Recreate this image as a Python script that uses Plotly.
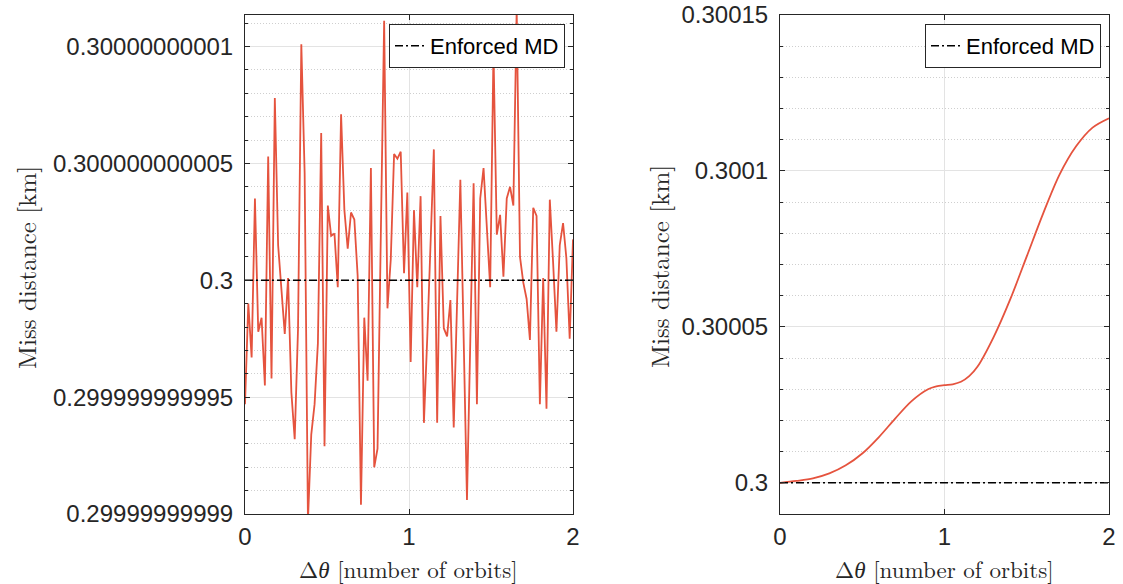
import plotly.graph_objects as go

# ---------------- data ----------------
# Left panel: miss distance offsets from 0.3 km, in units of 1e-12 km (100 samples over 0..2 orbits)
left_offsets_e12 = [
    -5.3, -1.0, -3.3, 3.5, -2.2, -1.6, -4.5, 5.3, -4.2, 7.8,
    1.5, -0.5, -2.3, 0.1, -4.8, -6.8, -2.1, 10.1, 4.6, -10.3,
    -6.6, -5.3, -2.7, 6.3, -7.1, 3.2, 1.9, 2.0, -0.3, 7.1,
    3.0, 1.35, 2.9, 2.6, 0.2, -9.6, -1.6, -4.3, 4.8, -8.0,
    -7.2, 2.0, 11.1, -1.2, 0.9, 5.4, 5.2, 5.5, 0.3, 3.75,
    -3.5, 3.0, -0.3, 3.6, -6.1, -2.5, 1.5, 5.6, -6.1, 2.75,
    -2.05, -2.4, -0.85, -6.3, -1.0, 4.3, -2.5, -9.4, -2.6, 4.15,
    -5.3, 3.5, 4.8, 2.2, -0.3, 9.8, 1.95, 2.8, 0.15, 3.5,
    4.0, 3.2, 11.6, 1.0, -0.1, -0.8, -2.55, 3.1, 2.75, -5.3,
    0.1, -5.5, 3.45, 0.75, -2.2, 1.5, 2.45, 0.95, -2.5, 1.75,
]
enforced_md = 0.3

# Right panel: smooth miss-distance growth, offsets from 0.3 km in units of 1e-5 km
right_theta = [0.0, 0.1, 0.2, 0.3, 0.4, 0.5, 0.6, 0.7, 0.8, 0.9, 0.95, 1.0,
               1.05, 1.1, 1.15, 1.2, 1.3, 1.4, 1.5, 1.6, 1.7, 1.8, 1.9, 2.0]
right_offsets_e5 = [0.0, 0.06, 0.14, 0.30, 0.56, 0.94, 1.46, 2.06, 2.62, 3.0, 3.09, 3.13,
                    3.16, 3.24, 3.42, 3.72, 4.69, 5.89, 7.26, 8.64, 9.89, 10.79, 11.39, 11.69]

left_ytickvals = [0.29999999999, 0.299999999995, 0.3, 0.300000000005, 0.30000000001]
left_yticktext = ["0.29999999999", "0.299999999995", "0.3", "0.300000000005", "0.30000000001"]
right_ytickvals = [0.3, 0.30005, 0.3001, 0.30015]
right_yticktext = ["0.3", "0.30005", "0.3001", "0.30015"]
x_tickvals = [0, 1, 2]
x_ticktext = ["0", "1", "2"]

# ---------------- derived series ----------------
n_left = len(left_offsets_e12)
left_theta = [2.0 * i / (n_left - 1) for i in range(n_left)]
left_md = [enforced_md + v * 1e-12 for v in left_offsets_e12]
right_md = [enforced_md + v * 1e-5 for v in right_offsets_e5]

RED = "#E5533E"
INK = "#262626"
W, H = 1123, 584

fig = go.Figure()

fig.add_trace(go.Scatter(x=left_theta, y=left_md, mode="lines",
                         line=dict(color=RED, width=1.8), showlegend=False,
                         xaxis="x", yaxis="y"))
fig.add_trace(go.Scatter(x=[0, 2], y=[enforced_md, enforced_md], mode="lines",
                         name="Enforced MD",
                         line=dict(color="black", width=1.6, dash="8px,3px,2px,3px"),
                         xaxis="x", yaxis="y", legend="legend"))

fig.add_trace(go.Scatter(x=right_theta, y=right_md, mode="lines",
                         line=dict(color=RED, width=1.8, shape="spline", smoothing=0.9),
                         showlegend=False, xaxis="x2", yaxis="y2"))
fig.add_trace(go.Scatter(x=[0, 2], y=[enforced_md, enforced_md], mode="lines",
                         name="Enforced MD",
                         line=dict(color="black", width=1.6, dash="8px,3px,2px,3px"),
                         xaxis="x2", yaxis="y2", legend="legend2"))

tickfont = dict(family="Liberation Sans, Arial, sans-serif", size=24, color=INK)

def xaxis_cfg(domain, anchor):
    return dict(domain=domain, anchor=anchor, range=[0, 2],
                tickmode="array", tickvals=x_tickvals, ticktext=x_ticktext,
                ticks="inside", ticklen=5, tickcolor=INK, tickwidth=1,
                showline=True, linecolor=INK, linewidth=1, mirror="ticks",
                showgrid=True, gridcolor="#e3e3e3", gridwidth=1,
                zeroline=False, tickfont=tickfont, ticklabelstandoff=1)

def yaxis_cfg(domain, anchor, rng, tv, tt, minor_dtick):
    return dict(domain=domain, anchor=anchor, range=rng,
                tickmode="array", tickvals=tv, ticktext=tt,
                ticks="inside", ticklen=5, tickcolor=INK, tickwidth=1,
                showline=True, linecolor=INK, linewidth=1, mirror="ticks",
                showgrid=True, gridcolor="#e3e3e3", gridwidth=1,
                zeroline=False, tickfont=tickfont, ticklabelstandoff=6,
                minor=dict(tickmode="linear", tick0=enforced_md, dtick=minor_dtick,
                           ticks="inside", ticklen=3, tickcolor=INK,
                           showgrid=True, gridcolor="#cfcfcf", griddash="1px,2px", gridwidth=1))

ydom = [1 - 514 / H, 1 - 15 / H]
fig.update_layout(
    width=W, height=H,
    margin=dict(l=0, r=0, t=0, b=0, autoexpand=False),
    paper_bgcolor="white", plot_bgcolor="white",
    xaxis=xaxis_cfg([245 / W, 573 / W], "y"),
    yaxis=yaxis_cfg(ydom, "x", [0.29999999999, 0.30000000001135],
                    left_ytickvals, left_yticktext, 1e-12),
    xaxis2=xaxis_cfg([780 / W, 1109 / W], "y2"),
    yaxis2=yaxis_cfg(ydom, "x2", [0.29999, 0.30015],
                     right_ytickvals, right_yticktext, 1e-5),
    legend=dict(x=565 / W, y=1 - 24 / H, xanchor="right", yanchor="top",
                bgcolor="white", bordercolor=INK, borderwidth=1,
                font=dict(family="Liberation Sans, Arial, sans-serif", size=22, color="black"),
                tracegroupgap=0, itemwidth=30),
    legend2=dict(x=1101 / W, y=1 - 24 / H, xanchor="right", yanchor="top",
                 bgcolor="white", bordercolor=INK, borderwidth=1,
                 font=dict(family="Liberation Sans, Arial, sans-serif", size=22, color="black"),
                 tracegroupgap=0, itemwidth=30),
    showlegend=True,
)

labfont = dict(family="Latin Modern Roman, CMU Serif, Liberation Serif, DejaVu Serif, serif",
               size=25, color=INK)
xlabfont = dict(labfont, size=23)
annos = [
    dict(text="Miss distance [km]", x=25 / W, y=1 - 268 / H, textangle=-90, font=labfont),
    dict(text="Miss distance [km]", x=658 / W, y=1 - 267 / H, textangle=-90, font=labfont),
    dict(text="Δ<i>θ</i> [number of orbits]", x=408 / W, y=1 - 568 / H, textangle=0, font=xlabfont),
    dict(text="Δ<i>θ</i> [number of orbits]", x=944 / W, y=1 - 568 / H, textangle=0, font=xlabfont),
]
for a in annos:
    fig.add_annotation(xref="paper", yref="paper", xanchor="center", yanchor="middle",
                       showarrow=False, **a)

fig.write_html("out.html")
